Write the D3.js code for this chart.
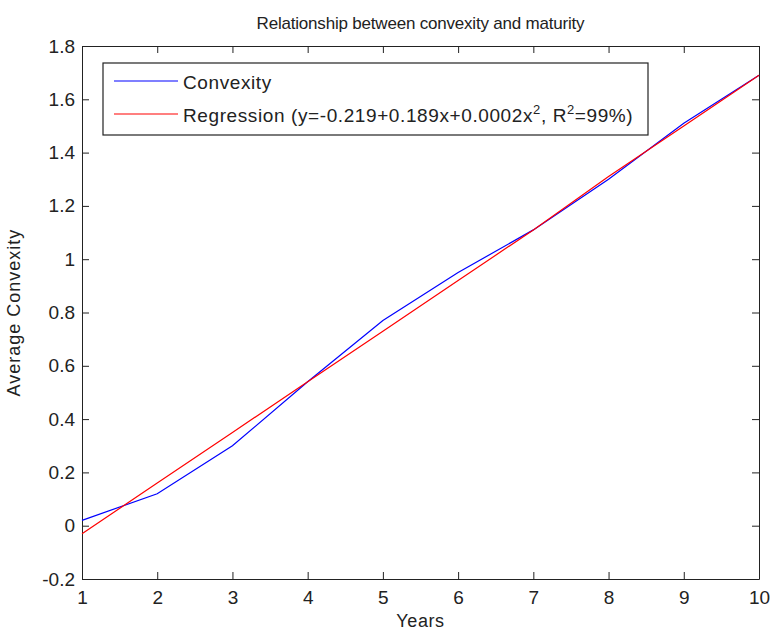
<!DOCTYPE html>
<html>
<head>
<meta charset="utf-8">
<script src="https://cdn.jsdelivr.net/npm/d3@7"></script>
<style>
  body { margin: 0; background: #fff; }
  svg text { font-family: "Liberation Sans", Arial, sans-serif; fill: #222; }
  .axis path, .axis line { stroke: #222; }
</style>
</head>
<body>
<svg id="chart"></svg>
<script>
//data
var years = [1, 2, 3, 4, 5, 6, 7, 8, 9, 10];
var convexity = [0.02, 0.12, 0.30, 0.54, 0.77, 0.95, 1.11, 1.30, 1.51, 1.69];
var regression = [-0.03, 0.16, 0.35, 0.54, 0.73, 0.92, 1.11, 1.31, 1.50, 1.69];
var yTicks = [-0.2, 0, 0.2, 0.4, 0.6, 0.8, 1, 1.2, 1.4, 1.6, 1.8];
var xTicks = [1, 2, 3, 4, 5, 6, 7, 8, 9, 10];

//chart parameters
var svg = d3.select('#chart')
    .attr('width', 772)
    .attr('height', 630);

var margin = {top: 46, right: 13, bottom: 51, left: 82},
    width = +svg.attr('width') - margin.left - margin.right,
    height = +svg.attr('height') - margin.top - margin.bottom;

//scales
var xScale = d3.scaleLinear().domain([1, 10]).range([0, width]),
    yScale = d3.scaleLinear().domain([-0.2, 1.8]).range([height, 0]);

var canvas = svg.append('g')
    .attr('transform', 'translate(' + margin.left + ',' + margin.top + ')');

//title
svg.append('text')
    .attr('x', margin.left + width / 2)
    .attr('y', 29)
    .attr('text-anchor', 'middle')
    .style('font-size', '17px')
    .style('letter-spacing', '-0.2px')
    .text('Relationship between convexity and maturity');

//axes (ticks inward, box all round)
canvas.append('g')
    .attr('class', 'axis')
    .attr('transform', 'translate(0,' + height + ')')
    .call(d3.axisBottom(xScale).tickValues(xTicks).tickSizeInner(-7).tickSizeOuter(0).tickPadding(12))
    .call(g => g.selectAll('text').style('font-size', '19px'));

canvas.append('g')
    .attr('class', 'axis')
    .call(d3.axisTop(xScale).tickValues(xTicks).tickSizeInner(-7).tickSizeOuter(0).tickFormat(''));

canvas.append('g')
    .attr('class', 'axis')
    .call(d3.axisLeft(yScale).tickValues(yTicks).tickSizeInner(-7).tickSizeOuter(0).tickPadding(7)
        .tickFormat(d => String(+d.toFixed(1))))
    .call(g => g.selectAll('text').style('font-size', '19px'));

canvas.append('g')
    .attr('class', 'axis')
    .attr('transform', 'translate(' + width + ',0)')
    .call(d3.axisRight(yScale).tickValues(yTicks).tickSizeInner(-7).tickSizeOuter(0).tickFormat(''));

canvas.selectAll('.axis').attr('font-family', null).attr('font-size', null);

//axis labels
svg.append('text')
    .attr('x', margin.left + width / 2)
    .attr('y', 627)
    .attr('text-anchor', 'middle')
    .style('font-size', '18px')
    .style('letter-spacing', '0.6px')
    .text('Years');

svg.append('text')
    .attr('transform', 'translate(20,' + (margin.top + height / 2) + ') rotate(-90)')
    .attr('text-anchor', 'middle')
    .style('font-size', '18px')
    .style('letter-spacing', '1px')
    .text('Average Convexity');

//lines
var line = d3.line().x((d, i) => xScale(years[i])).y(d => yScale(d));

canvas.append('path')
    .datum(convexity)
    .attr('fill', 'none')
    .attr('stroke', '#0000ff')
    .attr('stroke-width', 1.2)
    .attr('d', line);

canvas.append('path')
    .datum(regression)
    .attr('fill', 'none')
    .attr('stroke', '#ff0000')
    .attr('stroke-width', 1.2)
    .attr('d', line);

//legend
var legend = svg.append('g').attr('transform', 'translate(103,63)');

legend.append('rect')
    .attr('width', 545)
    .attr('height', 72)
    .attr('fill', '#fff')
    .attr('stroke', '#222')
    .attr('stroke-width', 1.2);

var items = [
    {color: '#0000ff', y: 18},
    {color: '#ff0000', y: 51}
];

legend.selectAll('line.key').data(items)
    .enter().append('line')
        .attr('x1', 11).attr('x2', 75)
        .attr('y1', d => d.y).attr('y2', d => d.y)
        .attr('stroke', d => d.color)
        .attr('stroke-width', 1.2);

legend.append('text')
    .attr('x', 80).attr('y', 26)
    .style('font-size', '19px')
    .style('letter-spacing', '0.6px')
    .text('Convexity');

var reg = legend.append('text')
    .attr('x', 80).attr('y', 59)
    .style('font-size', '19px')
    .style('letter-spacing', '0.6px');
reg.append('tspan').text('Regression (y=-0.219+0.189x+0.0002x');
reg.append('tspan').attr('dy', -8).style('font-size', '13px').text('2');
reg.append('tspan').attr('dy', 8).text(', R');
reg.append('tspan').attr('dy', -8).style('font-size', '13px').text('2');
reg.append('tspan').attr('dy', 8).text('=99%)');
</script>
</body>
</html>
